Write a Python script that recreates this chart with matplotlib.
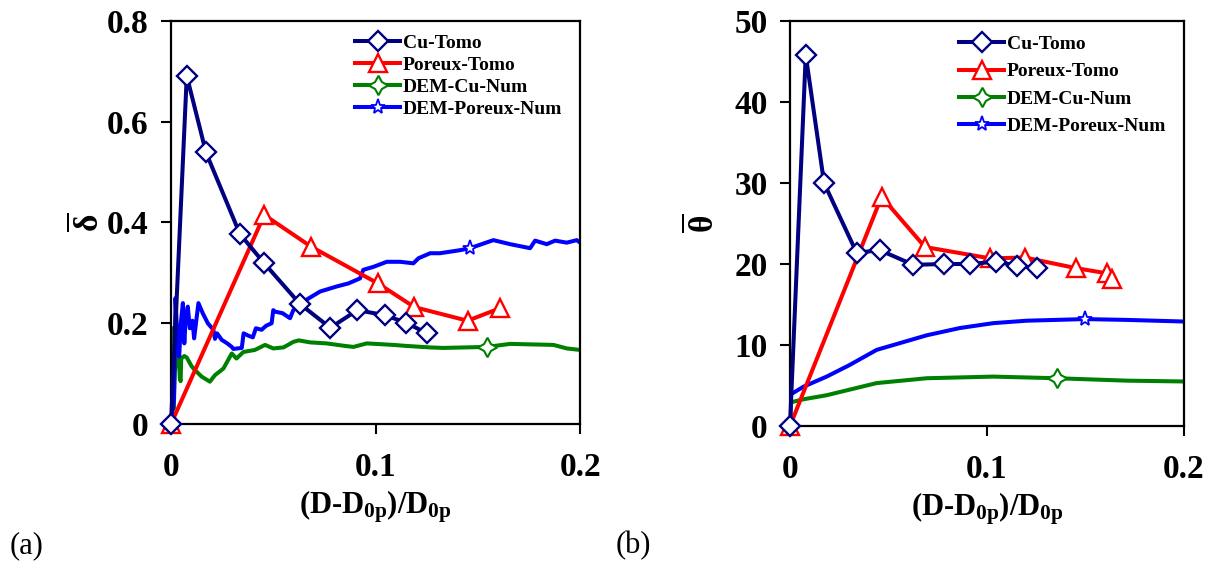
import matplotlib
matplotlib.use("Agg")
import matplotlib.pyplot as plt

plt.rcParams['font.family'] = ['Liberation Serif', 'DejaVu Serif']
plt.rcParams['font.weight'] = 'bold'
plt.rcParams['axes.labelweight'] = 'bold'
plt.rcParams['mathtext.fontset'] = 'custom'
plt.rcParams['mathtext.rm'] = 'Liberation Serif:bold'
plt.rcParams['mathtext.it'] = 'Liberation Serif:bold'
plt.rcParams['mathtext.bf'] = 'Liberation Serif:bold'

# ---------------- Panel (a): delta ----------------
a_cu_x = [0.0, 0.0077, 0.0171, 0.0337, 0.0456, 0.0631, 0.0779, 0.0911, 0.1046, 0.1149, 0.1252]
a_cu_y = [0.0, 0.691, 0.539, 0.377, 0.319, 0.238, 0.191, 0.226, 0.216, 0.201, 0.180]

a_po_x = [0.0, 0.0456, 0.0685, 0.1012, 0.119, 0.145, 0.161]
a_po_y = [0.0, 0.415, 0.352, 0.279, 0.232, 0.205, 0.230]

a_demcu_x = [0.0, 0.0005, 0.0009, 0.0012, 0.0018, 0.0028, 0.0038, 0.0043, 0.0047, 0.005,
             0.0065, 0.0077, 0.010, 0.0117, 0.015, 0.019, 0.0215, 0.0256, 0.0297, 0.032,
             0.0354, 0.041, 0.046, 0.050, 0.055, 0.0598, 0.0625, 0.068, 0.0761, 0.085,
             0.0892, 0.0957, 0.1087, 0.115, 0.1267, 0.133, 0.1544, 0.1658, 0.187, 0.1935, 0.2]
a_demcu_y = [0.0, 0.19, 0.19, 0.03, 0.10, 0.145, 0.14, 0.09, 0.085, 0.13,
             0.135, 0.132, 0.115, 0.107, 0.094, 0.084, 0.097, 0.11, 0.14, 0.13,
             0.143, 0.147, 0.157, 0.15, 0.152, 0.163, 0.166, 0.162, 0.160, 0.155,
             0.153, 0.16, 0.157, 0.155, 0.152, 0.151, 0.153, 0.159, 0.157, 0.150, 0.147]

a_dempo_x = [0.0, 0.0008, 0.0015, 0.0022, 0.0032, 0.004, 0.0048, 0.0058, 0.0065, 0.0072,
             0.0082, 0.0092, 0.0105, 0.0113, 0.0125, 0.0134, 0.0155, 0.018, 0.0207, 0.0215,
             0.0225, 0.0248, 0.0275, 0.0297, 0.0305, 0.0346, 0.0355, 0.038, 0.040, 0.0415,
             0.0443, 0.0465, 0.0492, 0.050, 0.0509, 0.0545, 0.0582, 0.0598, 0.0647, 0.0729,
             0.081, 0.0867, 0.0924, 0.094, 0.099, 0.1055, 0.112, 0.1185, 0.121, 0.1267,
             0.1315, 0.1413, 0.1462, 0.1576, 0.1658, 0.1756, 0.178, 0.1837, 0.1878, 0.1935,
             0.1984, 0.2]
a_dempo_y = [0.0, 0.03, 0.05, 0.25, 0.16, 0.134, 0.20, 0.24, 0.16, 0.21,
             0.233, 0.19, 0.205, 0.17, 0.21, 0.24, 0.22, 0.20, 0.187, 0.169,
             0.18, 0.167, 0.16, 0.153, 0.149, 0.151, 0.18, 0.175, 0.172, 0.19,
             0.187, 0.195, 0.20, 0.226, 0.223, 0.22, 0.21, 0.226, 0.243, 0.263,
             0.273, 0.279, 0.289, 0.306, 0.312, 0.322, 0.322, 0.319, 0.329, 0.339,
             0.339, 0.345, 0.349, 0.365, 0.357, 0.349, 0.364, 0.357, 0.364, 0.36,
             0.365, 0.36]

# ---------------- Panel (b): theta ----------------
b_cu_x = [0.0, 0.0080, 0.0173, 0.0338, 0.0457, 0.0626, 0.0783, 0.0914, 0.1046, 0.1151, 0.1256]
b_cu_y = [0.0, 45.8, 30.0, 21.4, 21.7, 19.9, 20.0, 20.0, 20.3, 19.8, 19.5]

b_po_x = [0.0, 0.0465, 0.0685, 0.1015, 0.1193, 0.145, 0.1608, 0.1633]
b_po_y = [0.0, 28.3, 22.1, 20.7, 20.8, 19.5, 18.85, 18.2]

b_demcu_x = [0.0, 0.0003, 0.0017, 0.0068, 0.0186, 0.0355, 0.044, 0.0694, 0.0863, 0.1032, 0.1354, 0.171, 0.2]
b_demcu_y = [0.0, 2.9, 3.0, 3.3, 3.8, 4.8, 5.3, 5.9, 6.0, 6.1, 5.9, 5.6, 5.5]

b_dempo_x = [0.0, 0.0003, 0.0017, 0.0068, 0.0186, 0.030, 0.044, 0.0694, 0.0863, 0.1032, 0.120, 0.1497, 0.171, 0.2]
b_dempo_y = [0.0, 3.9, 4.1, 4.85, 6.1, 7.5, 9.4, 11.2, 12.1, 12.7, 13.0, 13.2, 13.1, 12.9]

labels = ['Cu-Tomo', 'Poreux-Tomo', 'DEM-Cu-Num', 'DEM-Poreux-Num']
navy, red, green, blue = '#000080', '#FF0000', '#008000', '#0000FF'
lw = 2.9

fig = plt.figure(figsize=(12.12, 5.63), dpi=100)
axa = fig.add_axes([0.1411, 0.2469, 0.3375, 0.7158])
axb = fig.add_axes([0.6518, 0.2433, 0.3251, 0.7194])


def draw(ax, cux, cuy, pox, poy, dcx, dcy, dcmark, dpx, dpy, dpmark):
    ax.plot(dcx, dcy, color=green, lw=lw, marker=(4, 1, 0), ms=14, mfc='white',
            mec=green, mew=1.5, markevery=[dcmark], label=labels[2], zorder=2)
    ax.plot(dpx, dpy, color=blue, lw=lw, marker='*', ms=11, mfc='white',
            mec=blue, mew=1.3, markevery=[dpmark], label=labels[3], zorder=2)
    ax.plot(pox, poy, color=red, lw=lw, marker='^', ms=13, mfc='white',
            mec=red, mew=1.7, label=labels[1], zorder=3, clip_on=False)
    ax.plot(cux, cuy, color=navy, lw=lw, marker='D', ms=10, mfc='white',
            mec=navy, mew=1.7, label=labels[0], zorder=4, clip_on=False)
    for s in ax.spines.values():
        s.set_linewidth(1.6)
    ax.tick_params(direction='out', length=7, width=1.5, labelsize=24)
    ax.tick_params(axis='x', pad=13)
    ax.tick_params(axis='y', pad=9)
    ax.set_xlim(0, 0.2)
    ax.set_xticks([0, 0.1, 0.2])
    ax.set_xticklabels(['0', '0.1', '0.2'])
    ax.set_xlabel(r'(D-D$_{\mathbf{0p}}$)/D$_{\mathbf{0p}}$', fontsize=22,
                  fontweight='bold', labelpad=4)
    h, l = ax.get_legend_handles_labels()
    order = [3, 2, 0, 1]
    return [h[i] for i in order], [l[i] for i in order]


h, l = draw(axa, a_cu_x, a_cu_y, a_po_x, a_po_y, a_demcu_x, a_demcu_y, 36,
            a_dempo_x, a_dempo_y, 52)
axa.set_ylim(0, 0.8)
axa.set_yticks([0, 0.2, 0.4, 0.6, 0.8])
axa.set_yticklabels(['0', '0.2', '0.4', '0.6', '0.8'])
axa.set_ylabel(r'$\overline{\delta}$', fontsize=24, labelpad=1)
axa.legend(h, l, loc='upper right', bbox_to_anchor=(0.985, 0.995), frameon=False,
           fontsize=14, handlelength=2.3, handletextpad=0.15, labelspacing=0.22,
           borderaxespad=0.2)

h, l = draw(axb, b_cu_x, b_cu_y, b_po_x, b_po_y, b_demcu_x, b_demcu_y, 10,
            b_dempo_x, b_dempo_y, 11)
axb.set_ylim(0, 50)
axb.set_yticks([0, 10, 20, 30, 40, 50])
axb.set_ylabel(r'$\overline{\theta}$', fontsize=24, labelpad=10)
axb.legend(h, l, loc='upper right', bbox_to_anchor=(0.985, 0.993), frameon=False,
           fontsize=14, handlelength=2.3, handletextpad=0.15, labelspacing=0.5,
           borderaxespad=0.2)

fig.text(0.008, 0.018, '(a)', fontsize=22, fontweight='normal')
fig.text(0.508, 0.018, '(b)', fontsize=22, fontweight='normal')

fig.savefig('out.png', dpi=100)
